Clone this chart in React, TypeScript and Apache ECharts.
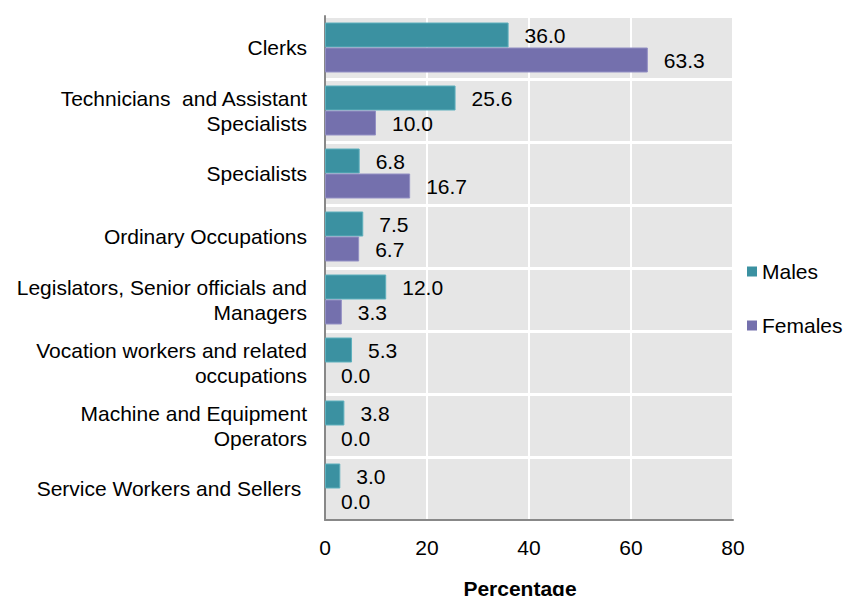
import React, { useEffect, useRef } from "react";
import * as echarts from "echarts";

const categories = [
  "Clerks",
  "Technicians  and Assistant\nSpecialists",
  "Specialists",
  "Ordinary Occupations",
  "Legislators, Senior officials and\nManagers",
  "Vocation workers and related\noccupations",
  "Machine and Equipment\nOperators",
  "Service Workers and Sellers ",
];
const males = [36.0, 25.6, 6.8, 7.5, 12.0, 5.3, 3.8, 3.0];
const females = [63.3, 10.0, 16.7, 6.7, 3.3, 0.0, 0.0, 0.0];
const xTicks = { min: 0, max: 80, interval: 20 };

const FONT = "'Liberation Sans', Arial, sans-serif";
const FS = 21;

export default function App() {
  const ref = useRef<HTMLDivElement>(null);
  useEffect(() => {
    const chart = echarts.init(ref.current!, null, { renderer: "svg" });
    const label = {
      show: true,
      position: "right",
      distance: 16,
      formatter: (p: any) => Number(p.value).toFixed(1),
      color: "#000",
      fontSize: FS,
      fontFamily: FONT,
    };
    const toData = (vals: number[], border: string) =>
      vals.map((v) => ({
        value: v,
        itemStyle: { borderColor: border, borderWidth: v > 0 ? 1 : 0 },
      }));
    chart.setOption({
      animation: false,
      textStyle: { fontFamily: FONT },
      grid: {
        left: 325,
        right: 110,
        top: 16,
        bottom: 76,
        containLabel: false,
        outerBoundsMode: "none",
      },
      legend: {
        orient: "vertical",
        left: 747,
        top: 261,
        itemWidth: 10,
        itemHeight: 10,
        itemGap: 33,
        padding: 0,
        icon: "rect",
        textStyle: { fontSize: FS, color: "#000", fontFamily: FONT },
        data: ["Males", "Females"],
      },
      xAxis: {
        type: "value",
        min: xTicks.min,
        max: xTicks.max,
        interval: xTicks.interval,
        name: "Percentage",
        nameLocation: "middle",
        nameGap: 58,
        nameTextStyle: {
          fontSize: FS,
          fontWeight: "bold",
          color: "#000",
          fontFamily: FONT,
          padding: [0, 18, 0, 0],
        },
        axisLine: { show: true, lineStyle: { color: "#888", width: 2 } },
        axisTick: { show: false },
        axisLabel: { fontSize: FS, color: "#000", margin: 17, fontFamily: FONT },
        splitLine: { show: true, lineStyle: { color: "#fff", width: 2 } },
      },
      yAxis: {
        type: "category",
        inverse: true,
        data: categories,
        axisLine: { show: true, lineStyle: { color: "#888", width: 2 } },
        axisTick: { show: false },
        axisLabel: { fontSize: FS, color: "#000", margin: 18, lineHeight: 25, align: "right", fontFamily: FONT },
        splitLine: { show: true, lineStyle: { color: "#fff", width: 3 } },
        splitArea: { show: true, areaStyle: { color: ["#e6e6e6", "#e6e6e6"] } },
      },
      series: [
        {
          name: "Males",
          type: "bar",
          data: toData(males, "#5fb0bd"),
          barWidth: 25,
          barGap: "0%",
          itemStyle: { color: "#3b91a1" },
          label,
        },
        {
          name: "Females",
          type: "bar",
          data: toData(females, "#9390c4"),
          barWidth: 25,
          barGap: "0%",
          itemStyle: { color: "#7470ad" },
          label,
        },
      ],
    });
    return () => chart.dispose();
  }, []);
  return <div ref={ref} style={{ width: 843, height: 596, position: "absolute", left: 0, top: 0 }} />;
}
